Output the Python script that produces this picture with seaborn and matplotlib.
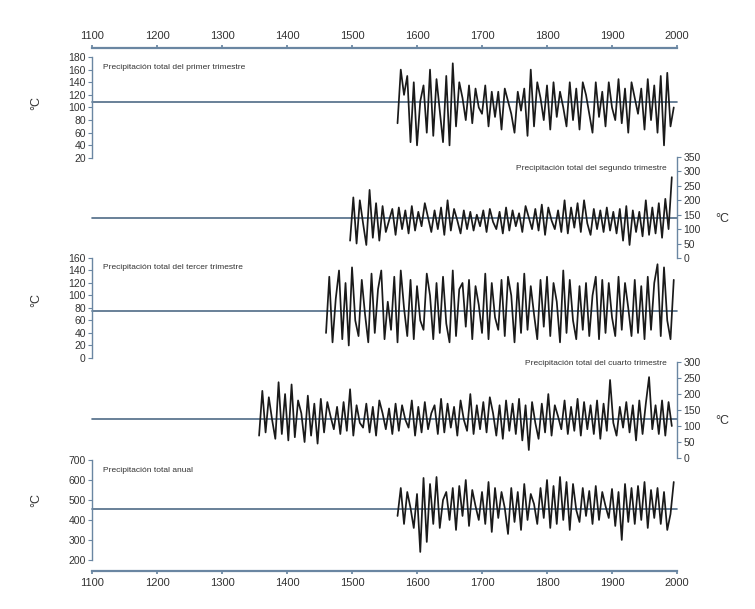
import numpy as np
import matplotlib
matplotlib.use("Agg")
from matplotlib import pyplot as plt
import seaborn as sns

# --- data (5-year steps) ---
p1_start = 1570
p1_vals = [75, 160, 120, 150, 45, 140, 40, 110, 135, 60,
           160, 55, 145, 95, 45, 150, 40, 170, 70, 140,
           115, 80, 135, 75, 130, 100, 90, 135, 70, 125,
           85, 125, 65, 130, 110, 90, 60, 125, 95, 130,
           55, 160, 70, 140, 115, 80, 135, 65, 140, 85,
           125, 100, 70, 140, 80, 130, 65, 140, 120, 90,
           60, 140, 85, 125, 70, 140, 100, 80, 145, 75,
           130, 60, 140, 115, 90, 130, 65, 145, 80, 135,
           60, 150, 40, 155, 70, 100]
p1_mean = 108

p2_start = 1497
p2_vals = [60, 210, 50, 200, 120, 45, 236, 70, 190, 60,
           180, 90, 130, 170, 80, 175, 100, 165, 85, 180,
           95, 160, 110, 190, 140, 90, 165, 100, 175, 80,
           200, 95, 170, 130, 85, 165, 100, 160, 95, 150,
           110, 165, 90, 170, 125, 100, 160, 85, 175, 95,
           165, 110, 155, 90, 180, 140, 100, 170, 95, 185,
           80, 175, 130, 100, 165, 90, 200, 85, 175, 105,
           190, 90, 200, 120, 80, 170, 100, 165, 90, 175,
           95, 160, 85, 170, 60, 180, 45, 165, 90, 160,
           75, 200, 80, 175, 85, 190, 70, 205, 100, 280]
p2_mean = 140

p3_start = 1460
p3_vals = [40, 130, 25, 95, 140, 30, 120, 20, 145, 60,
           35, 125, 70, 25, 135, 40, 110, 140, 30, 90,
           45, 130, 25, 140, 80, 35, 125, 30, 115, 60,
           45, 135, 100, 30, 120, 40, 130, 55, 25, 140,
           35, 110, 120, 50, 125, 30, 115, 85, 40, 135,
           30, 120, 65, 45, 125, 35, 130, 100, 25, 120,
           40, 135, 45, 115, 70, 30, 125, 50, 130, 35,
           120, 90, 25, 140, 40, 125, 60, 30, 115, 45,
           120, 35, 100, 130, 30, 125, 40, 120, 65, 35,
           130, 45, 120, 80, 35, 125, 40, 115, 30, 130,
           45, 120, 150, 35, 145, 60, 30, 125]
p3_mean = 75

p4_start = 1357
p4_vals = [70, 210, 80, 190, 120, 60, 237, 75, 200, 55,
           230, 65, 180, 140, 50, 195, 70, 170, 45, 185,
           80, 175, 130, 90, 160, 75, 175, 85, 215, 70,
           165, 110, 95, 170, 80, 160, 70, 180, 140, 90,
           155, 75, 170, 85, 165, 120, 95, 180, 70, 160,
           80, 175, 90, 140, 165, 75, 185, 80, 170, 95,
           160, 70, 180, 120, 85, 200, 75, 165, 90, 175,
           80, 190, 140, 70, 165, 60, 180, 85, 170, 75,
           185, 55, 165, 25, 175, 110, 60, 170, 80, 200,
           70, 165, 130, 90, 180, 75, 160, 85, 185, 70,
           175, 90, 165, 75, 180, 60, 170, 85, 244, 110,
           70, 160, 95, 175, 80, 165, 55, 180, 75, 170,
           253, 90, 165, 75, 180, 70, 175, 100]
p4_mean = 122

p5_start = 1570
p5_vals = [420, 560, 380, 540, 460, 360, 530, 240, 610, 290,
           580, 380, 615, 360, 500, 540, 400, 560, 350, 570,
           420, 600, 370, 550, 470, 400, 540, 380, 590, 340,
           560, 410, 540, 460, 330, 560, 390, 540, 350, 580,
           400, 530, 480, 380, 560, 410, 600, 360, 570, 380,
           615, 400, 590, 350, 580, 450, 390, 560, 420, 545,
           380, 570, 400, 540, 470, 410, 555, 370, 540, 300,
           580, 390, 560, 380, 570, 400, 590, 360, 550, 410,
           560, 380, 540, 350, 430, 590]
p5_mean = 455

titles = ["Precipitación total del primer trimestre",
          "Precipitación total del segundo trimestre",
          "Precipitación total del tercer trimestre",
          "Precipitación total del cuarto trimestre",
          "Precipitación total anual"]
y_ticks = [np.arange(20, 181, 20), np.arange(0, 351, 50), np.arange(0, 161, 20),
           np.arange(0, 301, 50), np.arange(200, 701, 100)]
x_ticks = np.arange(1100, 2001, 100)
unit = "°C"

sns.set_theme(style="ticks")
plt.rcParams['font.family'] = ['Liberation Sans', 'DejaVu Sans']

axis_col = "#6a86a2"
mean_col = "#4f6b86"
txt_col = "#333333"

fig = plt.figure(figsize=(7.55, 6.09), dpi=100)
fig.patch.set_facecolor("white")

# background axes that carries the top and bottom year axes
ax0 = fig.add_axes([0.1219, 0.0624, 0.7748, 0.8588])
ax0.set_xlim(1100, 2000)
ax0.set_ylim(0, 1)
ax0.patch.set_alpha(0)
for s in ["left", "right"]:
    ax0.spines[s].set_visible(False)
for s in ["top", "bottom"]:
    ax0.spines[s].set_color(axis_col)
    ax0.spines[s].set_linewidth(1.6)
ax0.set_yticks([])
ax0.set_xticks(x_ticks)
ax0.tick_params(axis="x", top=True, labeltop=True, bottom=True, labelbottom=True,
                length=2, color=axis_col, labelsize=8, labelcolor=txt_col, pad=3)

# panel boxes [left, bottom, width, height] and which side the y axis is on
boxes = [[0.1219, 0.7406, 0.7748, 0.1658],
         [0.1219, 0.5764, 0.7748, 0.1658],
         [0.1219, 0.4122, 0.7748, 0.1642],
         [0.1219, 0.2479, 0.7748, 0.1576],
         [0.1219, 0.0805, 0.7748, 0.1642]]
sides = ["left", "right", "left", "right", "left"]
starts = [p1_start, p2_start, p3_start, p4_start, p5_start]
series = [p1_vals, p2_vals, p3_vals, p4_vals, p5_vals]
means = [p1_mean, p2_mean, p3_mean, p4_mean, p5_mean]
title_y = [0.90, 0.89, 0.90, 0.99, 0.89]
label_y = [0.545, 0.446, 0.58, 0.45, 0.60]

for i in range(5):
    ax = fig.add_axes(boxes[i])
    ax.patch.set_alpha(0)
    vals = np.array(series[i], dtype=float)
    years = starts[i] + 5 * np.arange(len(vals))

    ax.axhline(means[i], color=mean_col, lw=1.2, zorder=1)
    sns.lineplot(x=years, y=vals, ax=ax, color="#1a1a1a", lw=1.25, zorder=2)
    for ln in ax.lines:
        ln.set_clip_on(False)

    ax.set_xlim(1100, 2000)
    ax.set_ylim(y_ticks[i][0], y_ticks[i][-1])
    ax.set_xticks([])
    ax.set_yticks(y_ticks[i])
    ax.set_xlabel("")

    other = "right" if sides[i] == "left" else "left"
    for s in ["top", "bottom", other]:
        ax.spines[s].set_visible(False)
    ax.spines[sides[i]].set_color(axis_col)
    ax.spines[sides[i]].set_linewidth(1.0)

    if sides[i] == "right":
        ax.yaxis.tick_right()
        ax.yaxis.set_label_position("right")
        ax.set_ylabel(unit, rotation=0, fontsize=9, color=txt_col)
        ax.yaxis.set_label_coords(1.077, label_y[i])
        ax.text(0.983, title_y[i], titles[i], transform=ax.transAxes,
                ha="right", va="center", fontsize=6, color=txt_col)
    else:
        ax.set_ylabel(unit, rotation=90, fontsize=9, color=txt_col)
        ax.yaxis.set_label_coords(-0.085, label_y[i])
        ax.text(0.019, title_y[i], titles[i], transform=ax.transAxes,
                ha="left", va="center", fontsize=6, color=txt_col)
    ax.tick_params(axis="y", length=3, width=0.8, color=axis_col,
                   labelsize=7.5, labelcolor=txt_col, pad=1.5)

fig.savefig("out.png", dpi=100, facecolor="white")
